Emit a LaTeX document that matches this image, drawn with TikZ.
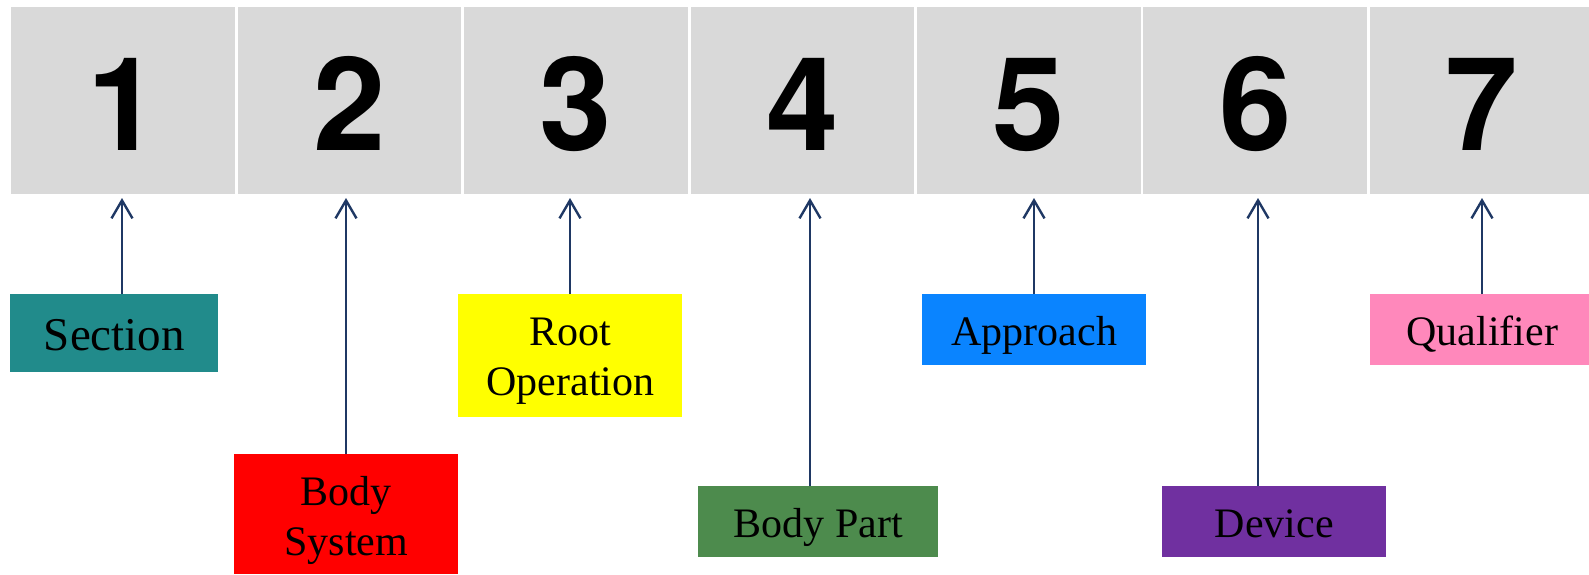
\documentclass[tikz,border=0pt]{standalone}
\usepackage{fontspec}
\setmainfont{Liberation Serif}
\newfontfamily\digitfont{TeX Gyre Heros}
\usetikzlibrary{arrows.meta}
\definecolor{digitgray}{HTML}{D9D9D9}
\definecolor{cteal}{HTML}{218B8B}
\definecolor{cred}{HTML}{FF0000}
\definecolor{cyellow}{HTML}{FFFF00}
\definecolor{cgreen}{HTML}{4D8B4D}
\definecolor{cblue}{HTML}{0A84FF}
\definecolor{cpurple}{HTML}{7030A0}
\definecolor{cpink}{HTML}{FF88BB}
\definecolor{arrowblue}{HTML}{1F3864}
\tikzset{
  digitbox/.style={fill=digitgray, draw=none, anchor=north west, inner sep=0pt,
    minimum width=111.75pt, minimum height=93.5pt,
    font=\digitfont\bfseries\fontsize{65pt}{70pt}\selectfont,
    text height=49.5pt, text depth=0pt},
  lblbox/.style={draw=none, anchor=north west, inner sep=0pt,
    minimum width=112pt, minimum height=35.5pt,
    font=\fontsize{21pt}{25pt}\selectfont, align=center},
  oneline/.style={text height=15.5pt, text depth=0pt},
  conn/.style={draw=arrowblue, line width=1.2pt,
    -{Straight Barb[length=9pt,width=10.5pt,line width=1.2pt]}}
}
\begin{document}
\begin{tikzpicture}[x=0.5pt,y=-0.5pt]
\useasboundingbox (0,0) rectangle (1589,574);
% digit boxes
\node[digitbox] (d1) at (11,7) {1};
\node[digitbox] (d2) at (237.4,7) {2};
\node[digitbox] (d3) at (463.8,7) {3};
\node[digitbox] (d4) at (690.2,7) {4};
\node[digitbox] (d5) at (916.6,7) {5};
\node[digitbox] (d6) at (1143,7) {6};
\node[digitbox] (d7) at (1369.4,7) {7};
% arrow tips
\coordinate (t1) at (122,198);
\coordinate (t2) at (346,198);
\coordinate (t3) at (570,198);
\coordinate (t4) at (810,198);
\coordinate (t5) at (1034,198);
\coordinate (t6) at (1258,198);
\coordinate (t7) at (1482,198);
% labels
\node[lblbox, fill=cteal, minimum width=104pt, minimum height=39pt,
  font=\fontsize{23.5pt}{28pt}\selectfont, text height=17pt, text depth=0pt] (l1) at (10,294) {Section};
\node[lblbox, fill=cred, minimum height=60pt, text height=41pt, text depth=0pt] (l2) at (234,454) {Body\\System};
\node[lblbox, fill=cyellow, minimum height=61.5pt, text height=39.5pt, text depth=0pt] (l3) at (458,294) {Root\\Operation};
\node[lblbox, oneline, fill=cgreen, minimum width=120pt] (l4) at (698,486) {Body Part};
\node[lblbox, oneline, fill=cblue] (l5) at (922,294) {Approach};
\node[lblbox, oneline, fill=cpurple] (l6) at (1162,486) {Device};
\node[lblbox, oneline, fill=cpink] (l7) at (1370,294) {Qualifier};
% connectors
\draw[conn] (l1.north -| t1) -- (t1);
\draw[conn] (l2.north -| t2) -- (t2);
\draw[conn] (l3.north -| t3) -- (t3);
\draw[conn] (l4.north -| t4) -- (t4);
\draw[conn] (l5.north -| t5) -- (t5);
\draw[conn] (l6.north -| t6) -- (t6);
\draw[conn] (l7.north -| t7) -- (t7);
\end{tikzpicture}
\end{document}
